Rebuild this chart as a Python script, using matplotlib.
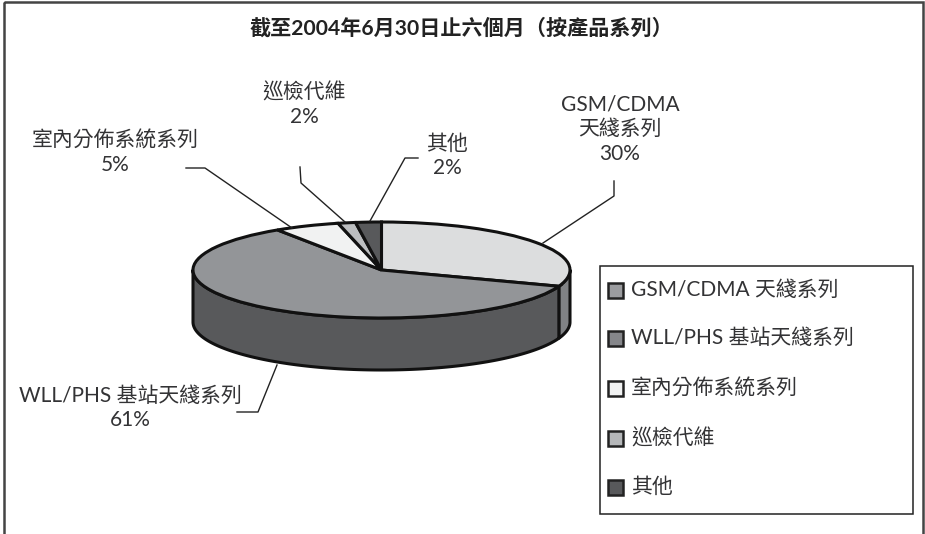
import numpy as np
import matplotlib
matplotlib.use("Agg")
import matplotlib.pyplot as plt
from matplotlib.patches import Rectangle

plt.rcParams['font.family'] = ['Lato', 'Noto Sans CJK TC', 'DejaVu Sans']

title = "截至2004年6月30日止六個月（按產品系列）"
legend_names = ["GSM/CDMA 天綫系列", "WLL/PHS 基站天綫系列", "室內分佈系統系列", "巡檢代維", "其他"]
label_names = ["GSM/CDMA\n天綫系列", "WLL/PHS 基站天綫系列", "室內分佈系統系列", "巡檢代維", "其他"]
percent_labels = ["30%", "61%", "5%", "2%", "2%"]
shares = [30.5, 60.2, 5.6, 1.5, 2.2]
top_colors = ["#dcddde", "#939598", "#f1f2f2", "#bcbec0", "#58595b"]
side_colors = ["#808285", "#58595b", "#f1f2f2", "#bcbec0", "#58595b"]
swatch_colors = ["#9b9c9f", "#85868a", "#f1f2f2", "#b5b7b9", "#58595b"]

W, H = 925, 534
TXT = "#333335"
fig = plt.figure(figsize=(W / 100, H / 100), dpi=100, facecolor="white")
bg = fig.add_axes([0, 0, 1, 1], zorder=3)
bg.set_xlim(0, W); bg.set_ylim(H, 0); bg.axis("off"); bg.patch.set_alpha(0)

# pie: ellipse box in pixels
L, R, T, B = 193, 570, 222, 318
depth = 52 / ((B - T) / 2)
ax = fig.add_axes([L / W, 1 - B / H, (R - L) / W, (B - T) / H], zorder=2)
wedges, _ = ax.pie(shares, colors=top_colors, startangle=90, counterclock=False, radius=1,
                   wedgeprops=dict(edgecolor="#111111", linewidth=2.2, clip_on=False, zorder=5))
ax.set_aspect("auto")
ax.set_xlim(-1, 1); ax.set_ylim(-1, 1)

# side wall of the pie, from the same shares
edges = np.concatenate([[0], np.cumsum(shares)]) / sum(shares) * 2 * np.pi
for a0, a1, col in zip(edges[:-1], edges[1:], side_colors):
    lo, hi = max(a0, np.pi / 2), min(a1, 3 * np.pi / 2)
    if hi <= lo:
        continue
    t = np.linspace(lo, hi, 200)
    x, y = np.sin(t), np.cos(t)
    ax.fill(np.r_[x, x[::-1]], np.r_[y, y[::-1] - depth], facecolor=col, edgecolor="#111111",
            linewidth=2.2, clip_on=False, zorder=1, joinstyle="round")

# outer frame
bg.add_patch(Rectangle((4, 2), 919, H + 10, fill=False, edgecolor="#444444", linewidth=1.8, clip_on=False))

bg.text(461, 28, title, ha="center", va="center", fontsize=15.2, fontweight="bold", color="#222222")

# data labels
label_pos = [(620, 129), (130, 408), (115, 153), (304, 105), (447, 156)]
for name, pct, (x, y) in zip(label_names, percent_labels, label_pos):
    bg.text(x, y, name + "\n" + pct, ha="center", va="center", fontsize=15, color=TXT,
            linespacing=1.3)

# leader lines
leaders = [
    [(543, 243), (614, 196), (614, 181)],
    [(277, 365), (258, 412), (237, 412)],
    [(186, 168), (205, 168), (292, 228)],
    [(300, 167), (301, 183), (345, 222)],
    [(418, 158), (405, 158), (370, 221)],
]
for pts in leaders:
    xs, ys = zip(*pts)
    bg.plot(xs, ys, color="#222222", linewidth=1.0)

# legend
bg.add_patch(Rectangle((600, 266), 313, 248, facecolor="white", edgecolor="#222222", linewidth=1.1))
legend_y = [290, 338, 388, 438, 487]
for name, col, y in zip(legend_names, swatch_colors, legend_y):
    bg.add_patch(Rectangle((608, y - 7), 14.5, 14.5, facecolor=col, edgecolor="#222222", linewidth=1.8))
    bg.text(631, y, name, ha="left", va="center", fontsize=15, color=TXT)

fig.savefig("out.png", dpi=100)
